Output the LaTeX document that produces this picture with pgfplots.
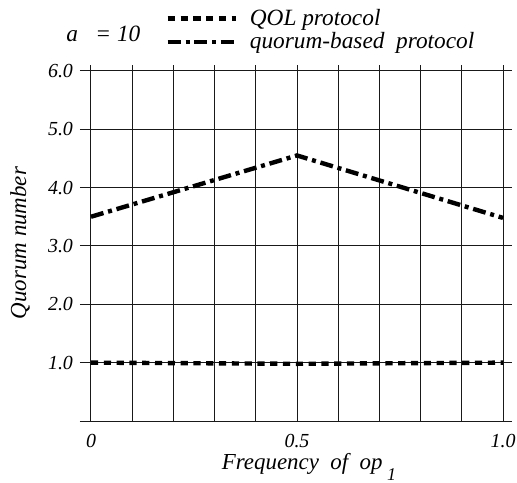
\documentclass[border=0pt]{standalone}
\usepackage{fontspec}
\setmainfont{Liberation Serif}
\usepackage{pgfplots}
\pgfplotsset{compat=1.18}

\pgfplotstableread{
x     q
0.0   1.00
0.5   0.98
1.0   1.00
}\qoldata
\pgfplotstableread{
x     q
0.0   3.50
0.5   4.55
1.0   3.48
}\quorumdata

\begin{document}
\begin{tikzpicture}
% fix the page to the reference proportions (1px = 0.5bp)
\useasboundingbox (-40bp,-31bp) rectangle (218.5bp,210.5bp);
\begin{axis}[
  scale only axis, width=216bp, height=178bp,
  xmin=-0.0267, xmax=1.0218, ymin=0, ymax=6.1,
  clip=false,
  axis line style={draw=none}, tick style={draw=none},
  xtick={0,0.5,1}, xticklabels={0,0.5,1.0},
  minor xtick={0.1,0.2,0.3,0.4,0.6,0.7,0.8,0.9},
  ytick={0,1,2,3,4,5,6}, yticklabels={,1.0,2.0,3.0,4.0,5.0,6.0},
  grid=both,
  major grid style={black!90, line width=0.5bp},
  minor grid style={black!90, line width=0.5bp},
  /pgf/number format/assume math mode=true,
  ticklabel style={font=\fontsize{10}{12}\selectfont\itshape},
  xticklabel style={anchor=base, yshift=-13bp},
  xlabel={Frequency\ \ of\ \ op\raisebox{-1.1ex}{\fontsize{9}{10}\selectfont\itshape\ 1}},
  xlabel style={at={(axis description cs:0.53,0)}, anchor=base, yshift=-24bp,
    font=\fontsize{11.5}{13}\selectfont\itshape},
  ylabel={Quorum number},
  ylabel style={at={(axis description cs:-0.139,0.5)}, anchor=center,
    font=\fontsize{11.5}{13}\selectfont\itshape},
  legend style={at={(axis description cs:0.197,1.17)}, anchor=north west,
    draw=none, fill=none, inner sep=0pt, row sep=-1.7bp,
    font=\fontsize{11.7}{13}\selectfont\itshape,
    /tikz/every odd column/.append style={column sep=4bp}},
  legend cell align=left,
  legend image code/.code={\draw[#1] (0bp,0bp) -- (34bp,0bp);},
]
\addplot[black, line width=2.2bp, dash pattern=on 3.6bp off 2.8bp]
  table[x=x,y=q] {\qoldata};
\addlegendentry{QOL protocol}
\addplot[black, line width=2.2bp, dash pattern=on 6.5bp off 2.4bp on 2bp off 2.4bp]
  table[x=x,y=q] {\quorumdata};
\addlegendentry{quorum-based\ \ protocol}
\node[font=\fontsize{11.7}{13}\selectfont\itshape] at (axis description cs:0.054,1.087) {a\ \ \ = 10};
\end{axis}
\end{tikzpicture}
\end{document}
